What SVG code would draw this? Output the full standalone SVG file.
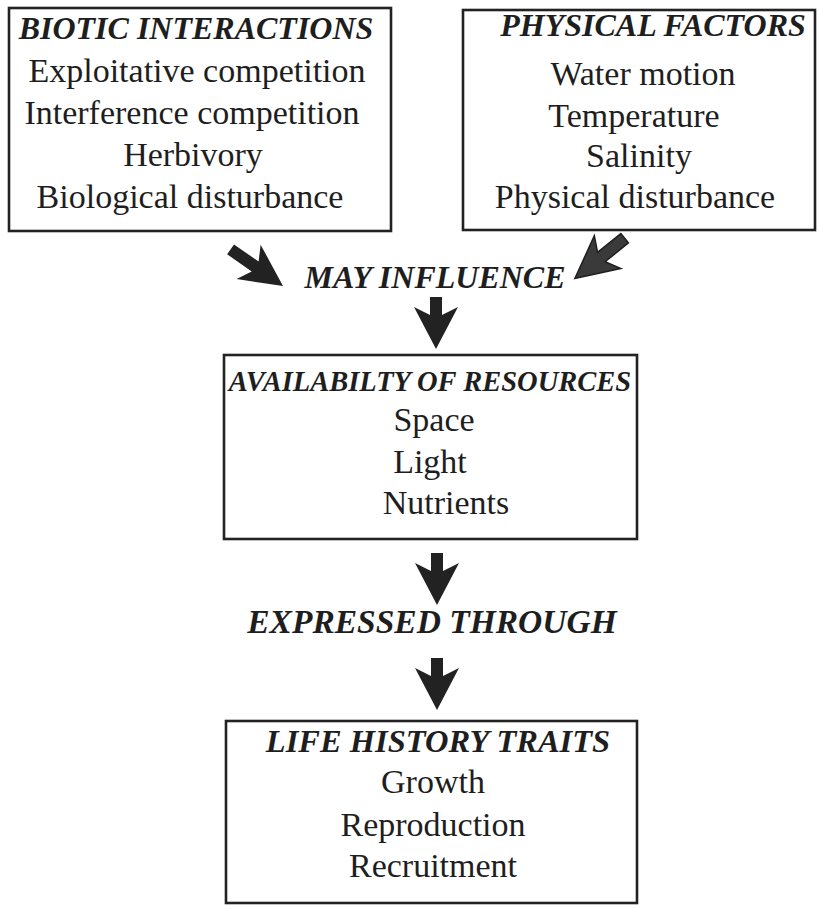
<svg xmlns="http://www.w3.org/2000/svg" width="819" height="905" viewBox="0 0 819 905">
<style>
.box{fill:#fff;stroke:#222;stroke-width:2.6}
.t{font-family:"Liberation Serif","Times New Roman",serif;font-size:32px;font-weight:bold;font-style:italic;fill:#1e1e1e;text-anchor:middle}
.b{font-family:"Liberation Serif","Times New Roman",serif;font-size:34px;fill:#1e1e1e;text-anchor:middle}
.arr{fill:#222}
</style>
<defs>
<path id="dn" d="M-6,0 L6,0 L6,18 L22,10 L0,52 L-22,10 L-6,18 Z"/>
<path id="dg" d="M-6,0 L6,0 L6,30 L21,22 L0,64 L-21,22 L-6,30 Z"/>
</defs>
<rect width="819" height="905" fill="#fff"/>
<g id="biotic">
<rect class="box" x="9" y="8" width="382" height="223"/>
<text class="t" x="196" y="39">BIOTIC INTERACTIONS</text>
<text class="b" x="197" y="82">Exploitative competition</text>
<text class="b" x="192" y="124">Interference competition</text>
<text class="b" x="193" y="166">Herbivory</text>
<text class="b" x="190" y="208">Biological disturbance</text>
</g>
<g id="physical">
<rect class="box" x="463" y="10" width="352" height="220"/>
<text class="t" x="653" y="36">PHYSICAL FACTORS</text>
<text class="b" x="643" y="85">Water motion</text>
<text class="b" x="634" y="127">Temperature</text>
<text class="b" x="639" y="167">Salinity</text>
<text class="b" x="635" y="208">Physical disturbance</text>
</g>
<g id="may-influence">
<text class="t" x="435" y="288">MAY INFLUENCE</text>
</g>
<g id="resources">
<rect class="box" x="224" y="355" width="413" height="184"/>
<text class="t" x="430" y="391" style="font-size:28.5px">AVAILABILTY OF RESOURCES</text>
<text class="b" x="434" y="431">Space</text>
<text class="b" x="430" y="473">Light</text>
<text class="b" x="446" y="514">Nutrients</text>
</g>
<g id="expressed-through">
<text class="t" x="432" y="633" style="font-size:33.5px">EXPRESSED THROUGH</text>
</g>
<g id="traits">
<rect class="box" x="226" y="721" width="411" height="182"/>
<text class="t" x="438" y="752" style="font-size:32.5px">LIFE HISTORY TRAITS</text>
<text class="b" x="433" y="793">Growth</text>
<text class="b" x="433" y="836">Reproduction</text>
<text class="b" x="433" y="877">Recruitment</text>
</g>
<g id="connectors">
<use href="#dg" class="arr" transform="translate(283,286) rotate(-55) translate(0,-64)"/>
<use href="#dg" fill="#3a3a3a" stroke="#1e1e1e" stroke-width="1.5" transform="translate(578,276) rotate(51) translate(0,-60)"/>
<use href="#dn" class="arr" transform="translate(436,297)"/>
<use href="#dn" class="arr" transform="translate(437,553)"/>
<use href="#dn" class="arr" transform="translate(437,658)"/>
</g>
</svg>
